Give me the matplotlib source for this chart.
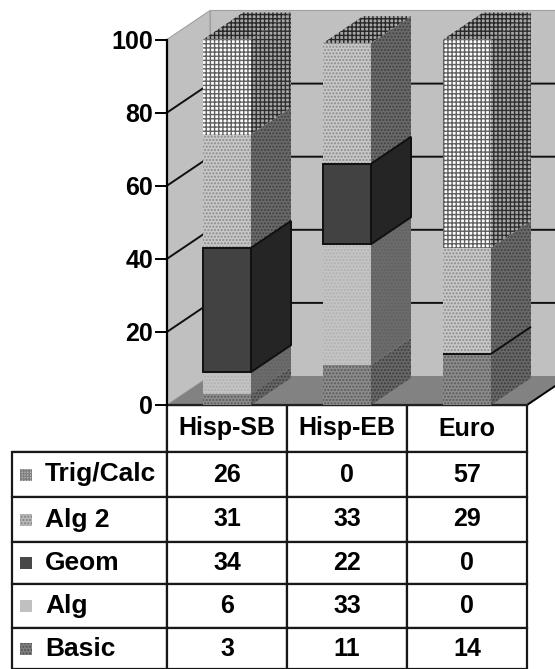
import matplotlib
matplotlib.use("Agg")
import matplotlib.pyplot as plt
from matplotlib.patches import Polygon, Rectangle

plt.rcParams['font.family'] = ['Liberation Sans', 'DejaVu Sans']
plt.rcParams['font.weight'] = 'bold'
plt.rcParams['hatch.linewidth'] = 1.0

groups = ['Hisp-SB', 'Hisp-EB', 'Euro']
series = ['Basic', 'Alg', 'Geom', 'Alg 2', 'Trig/Calc']
basic = [3, 11, 14]
alg = [6, 33, 0]
geom = [34, 22, 0]
alg2 = [31, 33, 29]
trig = [26, 0, 57]
yticks = [0, 20, 40, 60, 80, 100]

W, H = 555, 669
# pixel box of the front plane of the plot
LEFT, RIGHT, BASE, TOP = 167, 527, 405, 39.5
TAB_LEFT = 12
# table row heights in pixels, header first
ROW_PX = [47, 45, 45, 42, 44, 41]

# front, side, top: (face, hatch colour, hatch)
styles = {
    'Basic': (('#8c8c8c', '#5a5a5a', '.....'), ('#686868', '#3c3c3c', '.....'), ('#808080', '#505050', '.....')),
    'Alg': (('#c4c4c4', '#b0b0b0', '.....'), ('#6c6c6c', '#606060', '.....'), ('#909090', '#808080', '.....')),
    'Geom': (('#424242', '#424242', None), ('#252525', '#252525', None), ('#303030', '#303030', None)),
    'Alg 2': (('#c8c8c8', '#8a8a8a', '.....'), ('#6a6a6a', '#404040', '.....'), ('#909090', '#303030', '.....')),
    'Trig/Calc': (('#ffffff', '#606060', '++++'), ('#a8a8a8', '#303030', '++++'), ('#a8a8a8', '#282828', '++++')),
}
key_styles = {
    'Trig/Calc': ('#c0c0c0', '#808080', '++++++'),
    'Alg 2': ('#b8b8b8', '#808080', '.....'),
    'Geom': ('#484848', '#484848', None),
    'Alg': ('#c0c0c0', '#c0c0c0', None),
    'Basic': ('#808080', '#505050', '.....'),
}
values = {'Basic': basic, 'Alg': alg, 'Geom': geom, 'Alg 2': alg2, 'Trig/Calc': trig}


def poly(ax, pts, style, z, edge=None):
    face, hatch_col, hatch = style
    ax.add_patch(Polygon(pts, closed=True, facecolor=face, edgecolor=hatch_col, hatch=hatch,
                         linewidth=0, zorder=z, clip_on=False))
    if edge is not None:
        ax.add_patch(Polygon(pts, closed=True, fill=False, edgecolor=edge, linewidth=1.4,
                             zorder=z + 0.1, clip_on=False))


fig = plt.figure(figsize=(W / 100, H / 100), dpi=100)
ax = fig.add_axes([LEFT / W, 1 - BASE / H, (RIGHT - LEFT) / W, (BASE - TOP) / H])
ax.set_xlim(0, len(groups))
ax.set_ylim(0, 100)

# depth of the walls and of the bars, in data units
wall_dx = 43 / 120
wall_dy = 29 / 3.655
bar_w = 0.4
bar_dx = 40 / 120
bar_dy = wall_dy * bar_dx / wall_dx

# walls and floor
n = len(groups)
ax.add_patch(Polygon([(0, 0), (wall_dx, wall_dy), (wall_dx, 100 + wall_dy), (0, 100)],
                     facecolor='#c0c0c0', edgecolor='#a0a0a0', lw=0.8, zorder=1, clip_on=False))
ax.add_patch(Polygon([(wall_dx, wall_dy), (n + wall_dx, wall_dy), (n + wall_dx, 100 + wall_dy), (wall_dx, 100 + wall_dy)],
                     facecolor='#c0c0c0', edgecolor='#a0a0a0', lw=0.8, zorder=1, clip_on=False))
ax.add_patch(Polygon([(0, 0), (n, 0), (n + wall_dx, wall_dy), (wall_dx, wall_dy)],
                     facecolor='#828282', edgecolor='none', zorder=2, clip_on=False))
ax.plot([n, n + wall_dx], [0, wall_dy], color='black', lw=1.4, zorder=2.5, clip_on=False)
for t in yticks[1:-1]:
    ax.plot([0, wall_dx, n + wall_dx], [t, t + wall_dy, t + wall_dy], color='#101010', lw=1.4,
            zorder=1.5, clip_on=False)

# stacked bars
for i in range(n):
    x0 = i + 0.5 - bar_w / 2
    x1 = x0 + bar_w
    bottom = 0
    z = 3 + i
    for name in series:
        front, side, top = styles[name]
        v = values[name][i]
        b, t = bottom, bottom + v
        edge = '#101010' if name == 'Geom' else None
        if v > 0 or name == 'Geom':
            poly(ax, [(x1, b), (x1 + bar_dx, b + bar_dy), (x1 + bar_dx, t + bar_dy), (x1, t)], side, z, edge)
            poly(ax, [(x0, b), (x1, b), (x1, t), (x0, t)], front, z + 0.2, edge)
        if name == series[-1]:
            poly(ax, [(x0, t), (x1, t), (x1 + bar_dx, t + bar_dy), (x0 + bar_dx, t + bar_dy)], top, z + 0.2)
        bottom = t

ax.set_xticks([])
ax.set_yticks(yticks)
ax.tick_params(axis='y', length=9, width=1.4, pad=1, labelsize=18)
for s in ['top', 'right', 'bottom']:
    ax.spines[s].set_visible(False)
ax.spines['left'].set_linewidth(1.6)
ax.spines['left'].set_zorder(2.8)
ax.patch.set_visible(False)
ax.plot([0, n], [0, 0], color='#202020', lw=1.6, zorder=2.6, clip_on=False)

# data table under the chart
tab = fig.add_axes([TAB_LEFT / W, 0, (RIGHT - TAB_LEFT) / W, 1 - BASE / H])
tab.axis('off')
tab.set_zorder(-1)
rows = series[::-1]
cell_text = [[''] + groups] + [[name] + [str(values[name][i]) for i in range(n)] for name in rows]
col_w = [(LEFT - TAB_LEFT) / (RIGHT - TAB_LEFT)] + [120 / (RIGHT - TAB_LEFT)] * n
table = tab.table(cellText=cell_text, colWidths=col_w, cellLoc='center', bbox=[0, 0, 1, 1])
table.auto_set_font_size(False)
table.set_fontsize(18)
for (r, c), cell in table.get_celld().items():
    cell.set_linewidth(1.6)
    cell.set_edgecolor('#181818')
    cell.set_facecolor('white')
    cell.set_height(ROW_PX[r] / sum(ROW_PX))
    if r == 0 and c == 0:
        cell.visible_edges = 'BR'
    if c == 0 and r > 0:
        cell.get_text().set_ha('left')
        cell.get_text().set_fontsize(19)
        cell.PAD = 33 / (LEFT - TAB_LEFT)

# legend keys in the row labels
y_px = ROW_PX[0]
for k, name in enumerate(rows):
    cy = 1 - (y_px + ROW_PX[k + 1] / 2) / (H - BASE)
    y_px += ROW_PX[k + 1]
    face, hc, hatch = key_styles[name]
    tab.add_patch(Rectangle((8 / (RIGHT - TAB_LEFT), cy - 6 / (H - BASE)), 12 / (RIGHT - TAB_LEFT), 12 / (H - BASE),
                            transform=tab.transAxes, facecolor=face, edgecolor=hc, hatch=hatch,
                            linewidth=0, zorder=10))

fig.savefig('out.png', dpi=100)
